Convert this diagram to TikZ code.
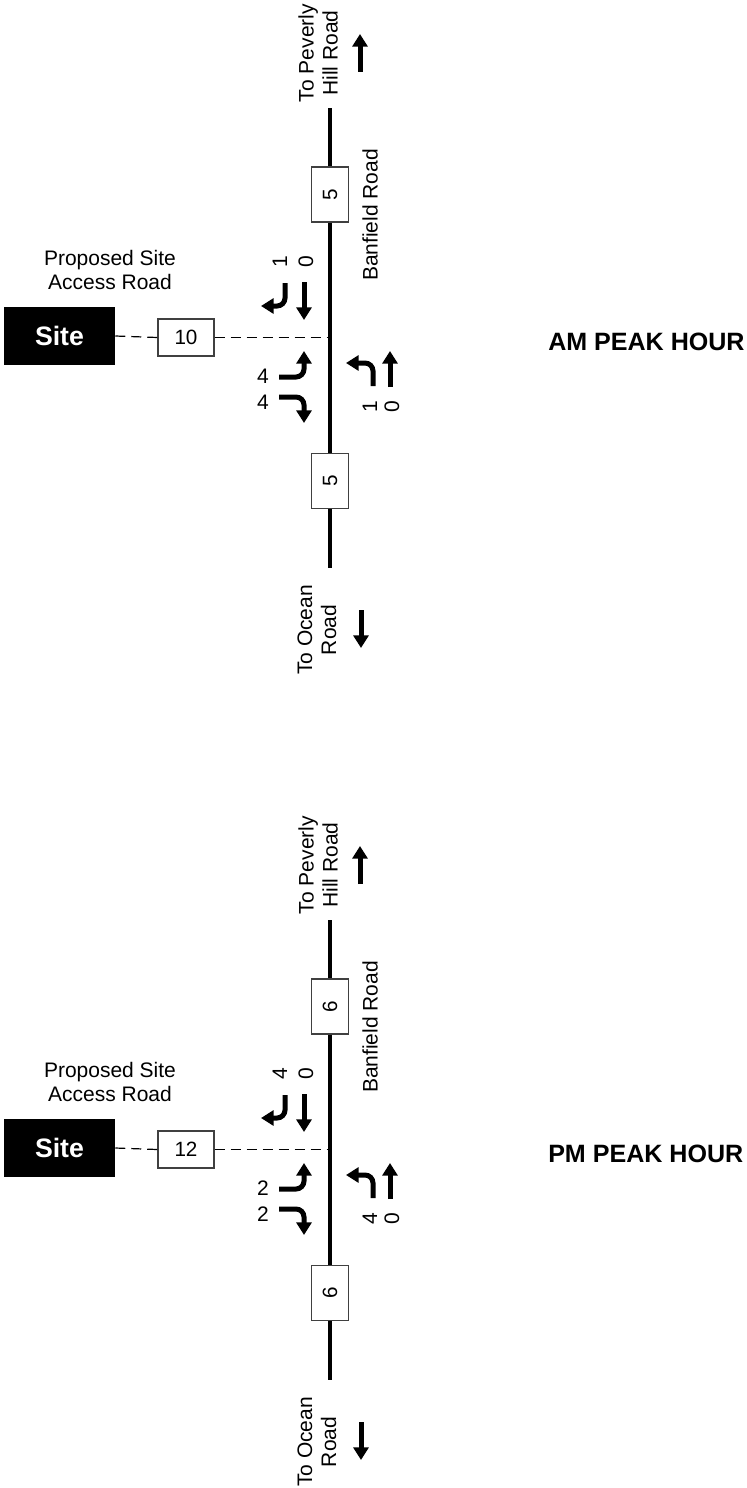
\documentclass[tikz,border=0pt]{standalone}
\usepackage{fontspec}
\setmainfont{Liberation Sans}
\usetikzlibrary{arrows.meta}
\tikzset{
  lbl/.style={font=\fontsize{15.75}{18}\selectfont, inner sep=0pt, align=center},
  vlbl/.style={lbl, rotate=90},
  peak/.style={font=\fontsize{18.8}{22}\selectfont\bfseries, inner sep=0pt},
  sitebox/.style={fill=black, text=white, font=\fontsize{20}{24}\selectfont\bfseries,
    minimum width=83.25pt, minimum height=43.5pt, inner sep=0pt},
  volbox/.style={draw=black!75, line width=0.8pt, fill=white, font=\fontsize{15.5}{18}\selectfont,
    minimum width=42pt, minimum height=27.75pt, inner sep=0pt},
  roadbox/.style={volbox, rotate=90, minimum width=41.25pt, minimum height=27.75pt},
  road/.style={line width=2.5pt},
  access/.style={line width=0.9pt, dash pattern=on 7.5pt off 4.5pt},
  mv/.style={line width=3.75pt, rounded corners=6pt, -{Triangle[width=11.25pt,length=9.5pt]}},
}
\newcommand\trafficpanel[9]{%
\begin{scope}[shift={(0,#2)}]
  \node[sitebox] (#1site) at (59.5,336) {Site};
  \node[volbox] (#1acc) at (186,337.5) {#4};
  \node[roadbox] (#1n) at (330,194.5) {#3};
  \node[roadbox] (#1s) at (330,481) {#3};
  \coordinate (#1top) at (330,108);
  \coordinate (#1bot) at (330,568);
  \coordinate (#1x) at (330,337.5);
  \draw[access] (#1site.east) -- (#1acc.west);
  \draw[access] (#1acc.east) -- (#1x);
  \draw[road] (#1top) -- (#1n.east);
  \draw[road] (#1n.west) -- (#1s.east);
  \draw[road] (#1s.west) -- (#1bot);
  % labels
  \node[vlbl] (#1pev) at (318,53) {To Peverly\\Hill Road};
  \node[vlbl] (#1oce) at (317,630) {To Ocean\\Road};
  \node[vlbl] (#1ban) at (370,215) {Banfield Road};
  \node[lbl] (#1prop) at (110,270) {Proposed Site\\Access Road};
  \node[peak, anchor=west] (#1peak) at (548,342) {#9};
  % direction arrows
  \coordinate (#1ua) at (360,72);
  \coordinate (#1ub) at (360,34);
  \coordinate (#1da) at (361,610);
  \coordinate (#1db) at (361,648);
  \draw[mv] (#1ua) -- (#1ub);
  \draw[mv] (#1da) -- (#1db);
  % southbound movements
  \node[vlbl] (#1sbr) at (280,262) {#5};
  \node[vlbl] (#1sbt) at (306,262) {0};
  \coordinate (#1sbr1) at (285,283);
  \coordinate (#1sbr2) at (285,306);
  \coordinate (#1sbr3) at (261,306);
  \draw[mv] (#1sbr1) -- (#1sbr2) -- (#1sbr3);
  \coordinate (#1sbt1) at (304,282);
  \coordinate (#1sbt2) at (304,320);
  \draw[mv] (#1sbt1) -- (#1sbt2);
  % eastbound (site exit) movements
  \node[lbl] (#1ebl) at (263,376) {#6};
  \node[lbl] (#1ebr) at (263,402) {#7};
  \coordinate (#1ebl1) at (279,377);
  \coordinate (#1ebl2) at (304,377);
  \coordinate (#1ebl3) at (304,351);
  \draw[mv] (#1ebl1) -- (#1ebl2) -- (#1ebl3);
  \coordinate (#1ebr1) at (279,397);
  \coordinate (#1ebr2) at (304,397);
  \coordinate (#1ebr3) at (304,423);
  \draw[mv] (#1ebr1) -- (#1ebr2) -- (#1ebr3);
  % northbound movements
  \node[vlbl] (#1nbl) at (370,407) {#8};
  \node[vlbl] (#1nbt) at (392,407) {0};
  \coordinate (#1nbl1) at (373,386);
  \coordinate (#1nbl2) at (373,363);
  \coordinate (#1nbl3) at (346,363);
  \draw[mv] (#1nbl1) -- (#1nbl2) -- (#1nbl3);
  \coordinate (#1nbt1) at (390,387);
  \coordinate (#1nbt2) at (390,351);
  \draw[mv] (#1nbt1) -- (#1nbt2);
\end{scope}}
\begin{document}
\begin{tikzpicture}[x=0.75pt, y=-0.75pt]
  \useasboundingbox (0,0) rectangle (746,1488);
  \trafficpanel{am}{0}{5}{10}{1}{4}{4}{1}{AM PEAK HOUR}
  \trafficpanel{pm}{812}{6}{12}{4}{2}{2}{4}{PM PEAK HOUR}
\end{tikzpicture}
\end{document}
